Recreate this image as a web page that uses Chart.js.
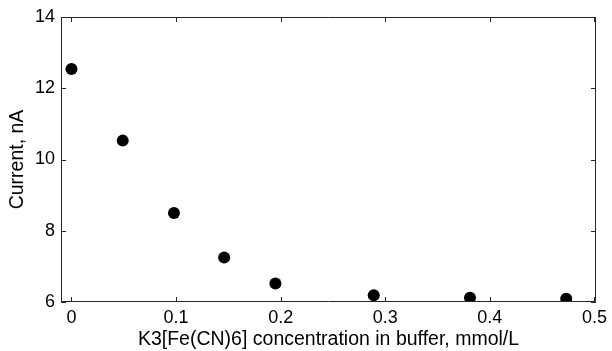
<!DOCTYPE html>
<html>
<head>
<meta charset="utf-8">
<script src="https://cdn.jsdelivr.net/npm/chart.js@4"></script>
<style>
html,body{margin:0;padding:0;background:#fff;}
#wrap{width:612px;height:351px;}
</style>
</head>
<body>
<div id="wrap"><canvas id="c" width="612" height="351"></canvas></div>
<script>
const concentration = [0, 0.049, 0.098, 0.146, 0.195, 0.289, 0.381, 0.473];
const current = [12.54, 10.53, 8.50, 7.25, 6.52, 6.19, 6.12, 6.09];
const xTicks = [0, 0.1, 0.2, 0.3, 0.4, 0.5];
const yTicks = [6, 8, 10, 12, 14];
const xTitle = 'K3[Fe(CN)6] concentration in buffer, mmol/L';
const yTitle = 'Current, nA';

const points = concentration.map((x, i) => ({x: x, y: current[i]}));
const axisColor = '#262626';
const FONT = 'Liberation Sans, Arial, sans-serif';

const innerTicks = {
  id: 'innerTicks',
  afterDraw(chart) {
    const {ctx, chartArea: a, scales: {x, y}} = chart;
    ctx.save();
    ctx.strokeStyle = axisColor;
    ctx.lineWidth = 1;
    ctx.beginPath();
    ctx.rect(a.left + 0.5, a.top + 0.5, a.right - a.left - 1, a.bottom - a.top - 1);
    const L = 5;
    xTicks.forEach(v => {
      const px = Math.round(x.getPixelForValue(v)) + 0.5;
      ctx.moveTo(px, a.bottom); ctx.lineTo(px, a.bottom - L);
      ctx.moveTo(px, a.top); ctx.lineTo(px, a.top + L);
    });
    yTicks.forEach(v => {
      const py = Math.round(y.getPixelForValue(v)) + 0.5;
      ctx.moveTo(a.left, py); ctx.lineTo(a.left + L, py);
      ctx.moveTo(a.right, py); ctx.lineTo(a.right - L, py);
    });
    ctx.stroke();
    ctx.restore();
  }
};

new Chart(document.getElementById('c'), {
  type: 'scatter',
  data: {
    datasets: [{
      data: points,
      backgroundColor: '#000',
      borderColor: '#000',
      pointRadius: 6,
      pointHoverRadius: 6,
      borderWidth: 0
    }]
  },
  options: {
    responsive: false,
    animation: false,
    events: [],
    layout: {padding: {top: 17, right: 15, left: 0, bottom: 0}},
    plugins: {legend: {display: false}, tooltip: {enabled: false}},
    scales: {
      x: {
        type: 'linear',
        min: -0.01,
        max: 0.5015,
        afterBuildTicks: s => { s.ticks = xTicks.map(v => ({value: v})); },
        afterFit: s => { s.height = 49; },
        grid: {display: false, drawTicks: false},
        border: {display: false},
        ticks: {
          color: '#000',
          padding: 5,
          font: {family: FONT, size: 18},
          maxRotation: 0,
          autoSkip: false,
          callback: v => String(v)
        },
        title: {
          display: true,
          text: xTitle,
          color: '#000',
          font: {family: FONT, size: 19.5},
          padding: {top: 0, bottom: 0}
        }
      },
      y: {
        type: 'linear',
        min: 6,
        max: 14,
        afterBuildTicks: s => { s.ticks = yTicks.map(v => ({value: v})); },
        afterFit: s => { s.width = 61; },
        grid: {display: false, drawTicks: false},
        border: {display: false},
        ticks: {
          color: '#000',
          padding: 6,
          font: {family: FONT, size: 18},
          autoSkip: false,
          callback: v => String(v)
        },
        title: {
          display: true,
          text: yTitle,
          color: '#000',
          font: {family: FONT, size: 19.5},
          padding: {top: 6, bottom: 0}
        }
      }
    }
  },
  plugins: [innerTicks]
});
</script>
</body>
</html>
